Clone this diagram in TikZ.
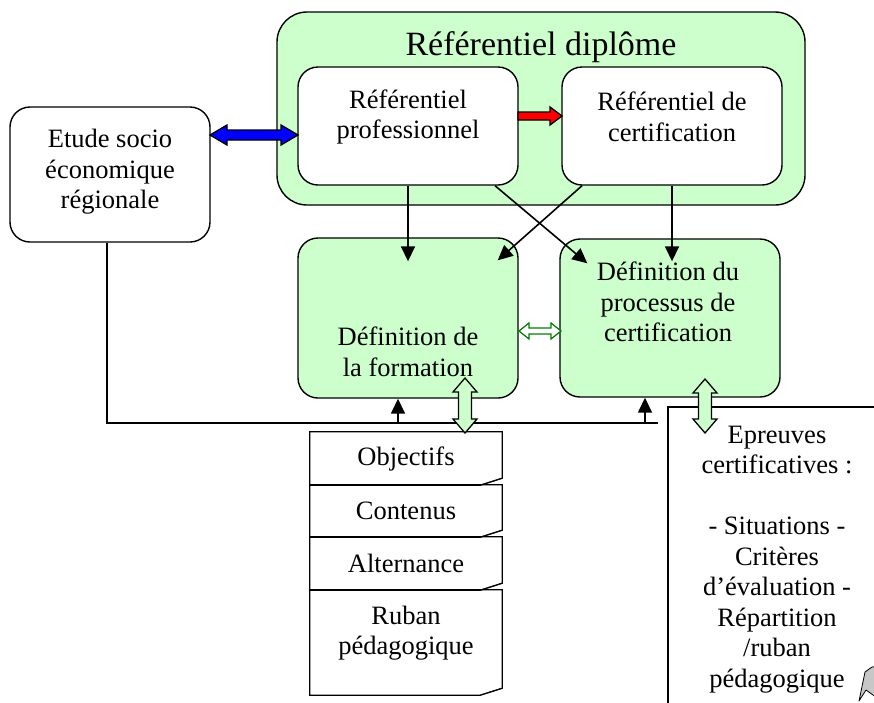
\documentclass[tikz,border=0pt]{standalone}
\usepackage{fontspec}
\setmainfont{Liberation Serif}
\usetikzlibrary{arrows.meta,calc}
\definecolor{lgreen}{HTML}{CCFFCC}
\definecolor{dgreen}{HTML}{008000}
\tikzset{
  rbox/.style={draw, line width=1.4pt, rounded corners=20pt, inner sep=0pt},
  lbl/.style={font=\fontsize{26.5}{30.5}\selectfont, align=center, inner sep=0pt},
  conn/.style={line width=1.6pt, -{Triangle[length=15pt,width=14pt]}},
  plainline/.style={line width=1.4pt},
  blk/.style={line width=1.3pt, draw=black},
  docline/.style={line width=1.3pt},
  foldfill/.style={fill=black!22, draw=black, line width=0.8pt, line join=round},
}
% horizontal double block arrow: x1 x2 y shafthalf headhalf headlen style
\newcommand{\hdblarrow}[7]{\filldraw[#7] (#1,#3) -- (#1+#6,#3-#5) -- (#1+#6,#3-#4) -- (#2-#6,#3-#4) -- (#2-#6,#3-#5) -- (#2,#3) -- (#2-#6,#3+#5) -- (#2-#6,#3+#4) -- (#1+#6,#3+#4) -- (#1+#6,#3+#5) -- cycle;}
% vertical double block arrow: x y1 y2 shafthalf headhalf headlen style
\newcommand{\vdblarrow}[7]{\filldraw[#7] (#1,#2) -- (#1+#5,#2+#6) -- (#1+#4,#2+#6) -- (#1+#4,#3-#6) -- (#1+#5,#3-#6) -- (#1,#3) -- (#1-#5,#3-#6) -- (#1-#4,#3-#6) -- (#1-#4,#2+#6) -- (#1-#5,#2+#6) -- cycle;}
% horizontal single block arrow
\newcommand{\hsglarrow}[7]{\filldraw[#7] (#1,#3-#4) -- (#2-#6,#3-#4) -- (#2-#6,#3-#5) -- (#2,#3) -- (#2-#6,#3+#5) -- (#2-#6,#3+#4) -- (#1,#3+#4) -- cycle;}
% document outline from a node: fold at bottom right
\newcommand{\docoutline}[1]{%
  \draw[docline] (#1.north west) -- (#1.north east) -- ($(#1.south east)+(0,-7)$) -- ($(#1.south east)+(-22,0)$) -- (#1.south west) -- cycle;
  \filldraw[foldfill] ($(#1.south east)+(-22,0)$) -- ($(#1.south east)+(0,-7)$) -- ($(#1.south east)+(-9,-4)$) -- cycle;}
\begin{document}
\begin{tikzpicture}[x=1pt,y=-1pt]
\useasboundingbox (0,0) rectangle (874,702);
\clip (0,0) rectangle (874,702);
\fill[white] (0,0) rectangle (874,702);

% outer container
\node[rbox, fill=lgreen, rounded corners=30pt, minimum width=528pt, minimum height=193pt] (dipl) at (541,108.5) {};
\node[lbl, font=\fontsize{34}{38}\selectfont] (diplt) at (541,47) {Référentiel diplôme};

% boxes
\node[rbox, fill=white, minimum width=220pt, minimum height=118pt] (prof) at (408,126) {};
\node[lbl] (proft) at (408,117) {Référentiel\\professionnel};
\node[rbox, fill=white, minimum width=220pt, minimum height=118pt] (cert) at (672,126) {};
\node[lbl] (certt) at (672,117) {Référentiel de\\certification};
\node[rbox, fill=white, minimum width=200pt, minimum height=135pt] (etude) at (110,174.5) {};
\node[lbl] (etudet) at (110,172) {Etude socio\\économique\\régionale};
\node[rbox, fill=lgreen, minimum width=220pt, minimum height=160pt] (form) at (408,318) {};
\node[lbl] (formt) at (408,352) {Définition de\\la formation};
\node[rbox, fill=lgreen, minimum width=220pt, minimum height=158pt] (proc) at (670,318) {};
\node[lbl] (proct) at (668,302) {Définition du\\processus de\\certification};

% documents (left stack)
\node[lbl, minimum width=192pt, minimum height=53pt] (obj) at (406,458.5) {Objectifs};
\node[lbl, minimum width=192pt, minimum height=52pt] (cont) at (406,511) {Contenus};
\node[lbl, minimum width=192pt, minimum height=53pt] (alt) at (406,563.5) {Alternance};
\node[lbl, minimum width=192pt, minimum height=105pt] (rub) at (406,642.5) {};
\node[lbl] (rubt) at (406,633) {Ruban\\pédagogique};
\docoutline{obj}
\docoutline{cont}
\docoutline{alt}
\docoutline{rub}

% right document (cut off)
\coordinate (eprtl) at (668,407);
\draw[docline] (668,720) -- (eprtl) -- (890,407);
\filldraw[foldfill] (859,701) -- (865,672) -- (872,667) -- (880,666) -- (880,700) -- (866,690) -- cycle;
\node[lbl] (epr) at (777,559.5) {Epreuves\\certificatives :\\\mbox{}\\- Situations -\\Critères\\d’évaluation -\\Répartition\\/ruban\\pédagogique};

% connectors
\coordinate (p1) at ($(prof.south)$);
\coordinate (p2) at ($(prof.south)+(87,0)$);
\coordinate (c1) at ($(cert.south)+(-90,0)$);
\coordinate (c2) at ($(cert.south)$);
\draw[conn] (p1) -- ($(p1 |- form.north)+(0,24)$);
\draw[conn] (p2) -- ($(proc.north west)+(28,25)$);
\draw[conn] (c1) -- ($(form.north east)+(-21,23)$);
\draw[conn] (c2) -- ($(c2 |- proc.north)+(0,23)$);

% bottom feedback line
\coordinate (lend) at (658,423);
\coordinate (lstart) at ($(etude.south)+(-3,0)$);
\draw[plainline] (lstart) |- (lend);
\coordinate (j1) at (398,423);
\coordinate (j2) at (645,423);
\draw[conn] (j1) -- (j1 |- form.south);
\draw[conn] (j2) -- (j2 |- proc.south);

% block arrows
\hdblarrow{210}{298}{135}{5}{10}{17}{blk, fill=blue}
\hsglarrow{518}{562}{116}{4}{9}{12}{blk, fill=red}
\hdblarrow{519}{561}{331}{3}{8}{10}{draw=dgreen, fill=white, line width=1.2pt}
\vdblarrow{465}{378}{433}{6.5}{12}{14}{blk, fill=lgreen}
\vdblarrow{705}{379}{433}{6.5}{12}{14}{blk, fill=lgreen}
\end{tikzpicture}
\end{document}
